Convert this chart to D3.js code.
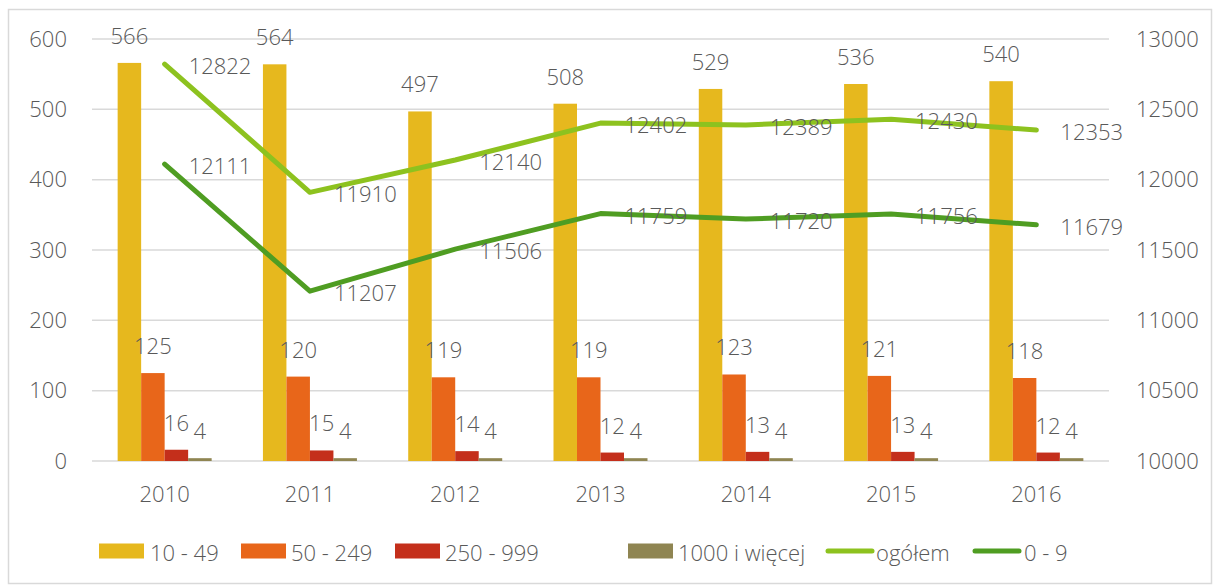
<!DOCTYPE html>
<html><head><meta charset="utf-8">
<script src="https://cdn.jsdelivr.net/npm/d3@7"></script>
<style>
body{margin:0;background:#fff;}
text{font-family:"Open Sans","Segoe UI",sans-serif;font-weight:300;fill:#595959;}
</style></head>
<body><svg id="c" width="1215" height="587"></svg>
<script>
const years = ["2010","2011","2012","2013","2014","2015","2016"];
const s10_49 = [566,564,497,508,529,536,540];
const s50_249 = [125,120,119,119,123,121,118];
const s250_999 = [16,15,14,12,13,13,12];
const s1000 = [4,4,4,4,4,4,4];
const ogolem = [12822,11910,12140,12402,12389,12430,12353];
const s0_9 = [12111,11207,11506,11759,11720,11756,11679];
const leftTicks = [0,100,200,300,400,500,600];
const rightTicks = [10000,10500,11000,11500,12000,12500,13000];

const barSeries = [
  {name:"10 - 49", values:s10_49, color:"#E6B81E"},
  {name:"50 - 249", values:s50_249, color:"#E8661A"},
  {name:"250 - 999", values:s250_999, color:"#C42F1B"},
  {name:"1000 i więcej", values:s1000, color:"#8F8552"}
];
const lineSeries = [
  {name:"ogółem", values:ogolem, color:"#8DC21F"},
  {name:"0 - 9", values:s0_9, color:"#4F9D22"}
];

const svg = d3.select("#c");
const FS = 22;
const L = 92, R = 1109, T = 39, B = 461;

svg.append("rect").attr("x",8.5).attr("y",9.5).attr("width",1203).attr("height",574)
  .attr("fill","#fff").attr("stroke","#d9d9d9").attr("stroke-width",1.5);

const x = d3.scaleBand().domain(years).range([L,R]).paddingInner(0).paddingOuter(0);
const yL = d3.scaleLinear().domain([0,600]).range([B,T]);
const yR = d3.scaleLinear().domain([10000,13000]).range([B,T]);
const groupW = 94;
const xb = d3.scaleBand().domain(barSeries.map(d=>d.name)).range([0,groupW]);

// gridlines
svg.append("g").selectAll("line").data(leftTicks).join("line")
  .attr("x1",L).attr("x2",R).attr("y1",d=>yL(d)).attr("y2",d=>yL(d))
  .attr("stroke","#d9d9d9").attr("stroke-width",1.5);

// left axis
const axL = svg.append("g").attr("transform",`translate(${L},0)`)
  .call(d3.axisLeft(yL).tickValues(leftTicks).tickSize(0).tickPadding(25));
axL.select(".domain").remove();
axL.selectAll("text").style("font-size",FS+"px").attr("fill","#595959");

const axR = svg.append("g").attr("transform",`translate(${R},0)`)
  .call(d3.axisRight(yR).tickValues(rightTicks).tickFormat(d3.format("d")).tickSize(0).tickPadding(27));
axR.select(".domain").remove();
axR.selectAll("text").style("font-size",FS+"px").attr("fill","#595959");

const axB = svg.append("g").attr("transform",`translate(0,${B})`)
  .call(d3.axisBottom(x).tickSize(0).tickPadding(25));
axB.select(".domain").remove();
axB.selectAll("text").style("font-size",FS+"px").attr("fill","#595959");

// bars
barSeries.forEach(s=>{
  const g = svg.append("g");
  g.selectAll("rect").data(years).join("rect")
    .attr("x",(d,i)=>x(d)+x.bandwidth()/2-groupW/2+xb(s.name))
    .attr("width",xb.bandwidth())
    .attr("y",(d,i)=>yL(s.values[i]))
    .attr("height",(d,i)=>B-yL(s.values[i]))
    .attr("fill",s.color);
});
barSeries.forEach(s=>{
  svg.append("g").selectAll("text").data(years).join("text")
    .attr("x",(d,i)=>x(d)+x.bandwidth()/2-groupW/2+xb(s.name)+xb.bandwidth()/2)
    .attr("y",(d,i)=>yL(s.values[i])-28)
    .attr("text-anchor","middle").attr("dominant-baseline","central")
    .style("font-size",FS+"px")
    .text((d,i)=>s.values[i]);
});

// lines
lineSeries.forEach(s=>{
  const line = d3.line().x((d,i)=>x(years[i])+x.bandwidth()/2).y(d=>yR(d));
  svg.append("path").datum(s.values).attr("d",line)
    .attr("fill","none").attr("stroke",s.color).attr("stroke-width",5)
    .attr("stroke-linecap","round").attr("stroke-linejoin","round");
});
lineSeries.forEach(s=>{
  svg.append("g").selectAll("text").data(s.values).join("text")
    .attr("x",(d,i)=>x(years[i])+x.bandwidth()/2+24)
    .attr("y",d=>yR(d)+1)
    .attr("dominant-baseline","central")
    .style("font-size",FS+"px")
    .text(d=>d);
});

// legend
const leg = svg.append("g");
const legItems = [
  {s:barSeries[0], x:99, tx:150, type:"bar"},
  {s:barSeries[1], x:241, tx:291, type:"bar"},
  {s:barSeries[2], x:395, tx:445, type:"bar"},
  {s:barSeries[3], x:628, tx:678, type:"bar"},
  {s:lineSeries[0], x:828, tx:876, type:"line"},
  {s:lineSeries[1], x:975, tx:1024, type:"line"}
];
const ly = 551;
legItems.forEach(it=>{
  if(it.type==="bar"){
    leg.append("rect").attr("x",it.x).attr("y",ly-7.5).attr("width",45).attr("height",15).attr("fill",it.s.color);
  } else {
    leg.append("line").attr("x1",it.x).attr("x2",it.x+44).attr("y1",ly).attr("y2",ly)
      .attr("stroke",it.s.color).attr("stroke-width",5).attr("stroke-linecap","round");
  }
  leg.append("text").attr("x",it.tx).attr("y",ly+1).attr("dominant-baseline","central")
    .style("font-size",FS+"px").text(it.s.name);
});
</script></body></html>
